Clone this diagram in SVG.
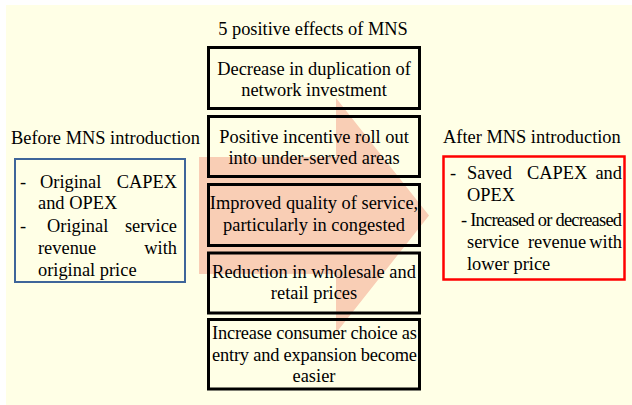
<svg xmlns="http://www.w3.org/2000/svg" width="632" height="405" viewBox="0 0 632 405">
<style>
text{font-family:"Liberation Serif","Times New Roman",serif;font-size:18.4px;fill:#000}
.c{text-anchor:middle}
.e{text-anchor:end}
.box{fill:none;stroke:#000;stroke-width:3}
</style>
<rect x="6" y="5" width="626" height="400" fill="#FFFFE6"/>
<polygon points="199,157 336,157 336,98 429,215.5 336,333 336,274 199,274" fill="#F9CEB5"/>
<text class="c" x="313" y="35">5 positive effects of MNS</text>
<g id="effect1">
<rect class="box" x="208.5" y="47.5" width="211" height="61"/>
<text class="c" x="314" y="75">Decrease in duplication of</text>
<text class="c" x="314" y="96">network investment</text>
</g>
<g id="effect2">
<rect class="box" x="208.5" y="116.5" width="211" height="60"/>
<text class="c" x="314" y="143">Positive incentive roll out</text>
<text class="c" x="314" y="164">into under-served areas</text>
</g>
<g id="effect3">
<rect class="box" x="208.5" y="184.5" width="211" height="61"/>
<text class="c" x="314" y="209">Improved quality of service,</text>
<text class="c" x="314" y="231">particularly in congested</text>
</g>
<g id="effect4">
<rect class="box" x="208.5" y="253" width="211" height="60"/>
<text class="c" x="314" y="278">Reduction in wholesale and</text>
<text class="c" x="314" y="299">retail prices</text>
</g>
<g id="effect5">
<rect class="box" x="208.5" y="319.5" width="211" height="69.5"/>
<text x="212" y="339" textLength="205" lengthAdjust="spacing">Increase consumer choice as</text>
<text x="212" y="361" textLength="205" lengthAdjust="spacing">entry and expansion become</text>
<text class="c" x="314" y="382">easier</text>
</g>
<g id="before">
<text x="11" y="144">Before MNS introduction</text>
<rect x="15" y="159" width="170" height="123" fill="none" stroke="#3F659A" stroke-width="2"/>
<text x="20" y="188">-</text>
<text x="40" y="188">Original</text>
<text class="e" x="177" y="188">CAPEX</text>
<text x="38" y="209">and OPEX</text>
<text x="20" y="232">-</text>
<text x="47" y="232">Original</text>
<text class="e" x="177" y="232">service</text>
<text x="38" y="254">revenue</text>
<text class="e" x="177" y="254">with</text>
<text x="38" y="276">original price</text>
</g>
<g id="after">
<text x="443" y="143">After MNS introduction</text>
<rect x="443.5" y="156.5" width="181" height="123" fill="none" stroke="#FF0000" stroke-width="2.5"/>
<text x="450" y="179">-</text>
<text x="467" y="179">Saved</text>
<text x="527" y="179">CAPEX</text>
<text class="e" x="622" y="179">and</text>
<text x="467" y="201">OPEX</text>
<text x="461" y="226" textLength="161" lengthAdjust="spacing">- Increased or decreased</text>
<text x="467" y="248">service</text>
<text x="528" y="248">revenue</text>
<text class="e" x="622" y="248">with</text>
<text x="467" y="270">lower price</text>
</g>
</svg>
